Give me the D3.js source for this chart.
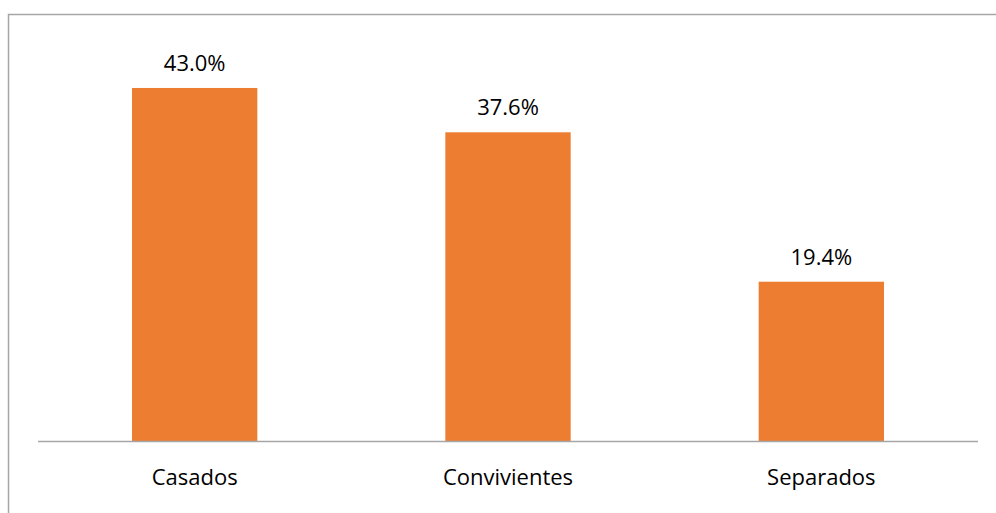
<!DOCTYPE html>
<html>
<head>
<meta charset="utf-8">
<script src="https://cdn.jsdelivr.net/npm/d3@7"></script>
<style>
  body { margin: 0; background: #fff; }
  text { font-family: "Open Sans", "Liberation Sans", sans-serif; fill: #000; }
</style>
</head>
<body>
<svg id="chart" width="996" height="513"></svg>
<script>
const categories = ['Casados', 'Convivientes', 'Separados']
const values = [43.0, 37.6, 19.4]

const width = 996
const height = 513
const baseY = 441

const svg = d3.select('#chart')

// outer frame (runs off right/bottom edge)
svg.append('rect')
  .attr('x', 8.5).attr('y', 14.5)
  .attr('width', 1000).attr('height', 520)
  .attr('fill', 'none')
  .attr('stroke', '#a6a6a6')
  .attr('stroke-width', 1.5)

const x = d3.scaleBand()
  .domain(categories)
  .range([38, 978])
  .paddingInner(0.6)
  .paddingOuter(0.3)

const y = d3.scaleLinear()
  .domain([0, 50])
  .range([baseY, baseY - 410.5])

const data = categories.map((c, i) => ({cat: c, val: values[i]}))

svg.selectAll('rect.bar').data(data).enter().append('rect')
  .attr('class', 'bar')
  .attr('x', d => x(d.cat))
  .attr('y', d => y(d.val))
  .attr('width', x.bandwidth())
  .attr('height', d => baseY - y(d.val))
  .attr('fill', '#ED7D31')

// axis line
svg.append('line')
  .attr('x1', 38).attr('x2', 978)
  .attr('y1', baseY + 0.5).attr('y2', baseY + 0.5)
  .attr('stroke', '#a6a6a6')
  .attr('stroke-width', 1.5)

// value labels
svg.selectAll('text.val').data(data).enter().append('text')
  .attr('class', 'val')
  .attr('x', d => x(d.cat) + x.bandwidth() / 2)
  .attr('y', d => y(d.val) - 17)
  .attr('text-anchor', 'middle')
  .attr('font-size', 22)
  .text(d => d.val.toFixed(1) + '%')

// category labels
svg.selectAll('text.cat').data(data).enter().append('text')
  .attr('class', 'cat')
  .attr('x', d => x(d.cat) + x.bandwidth() / 2)
  .attr('y', 485)
  .attr('text-anchor', 'middle')
  .attr('font-size', 22)
  .text(d => d.cat)
</script>
</body>
</html>
